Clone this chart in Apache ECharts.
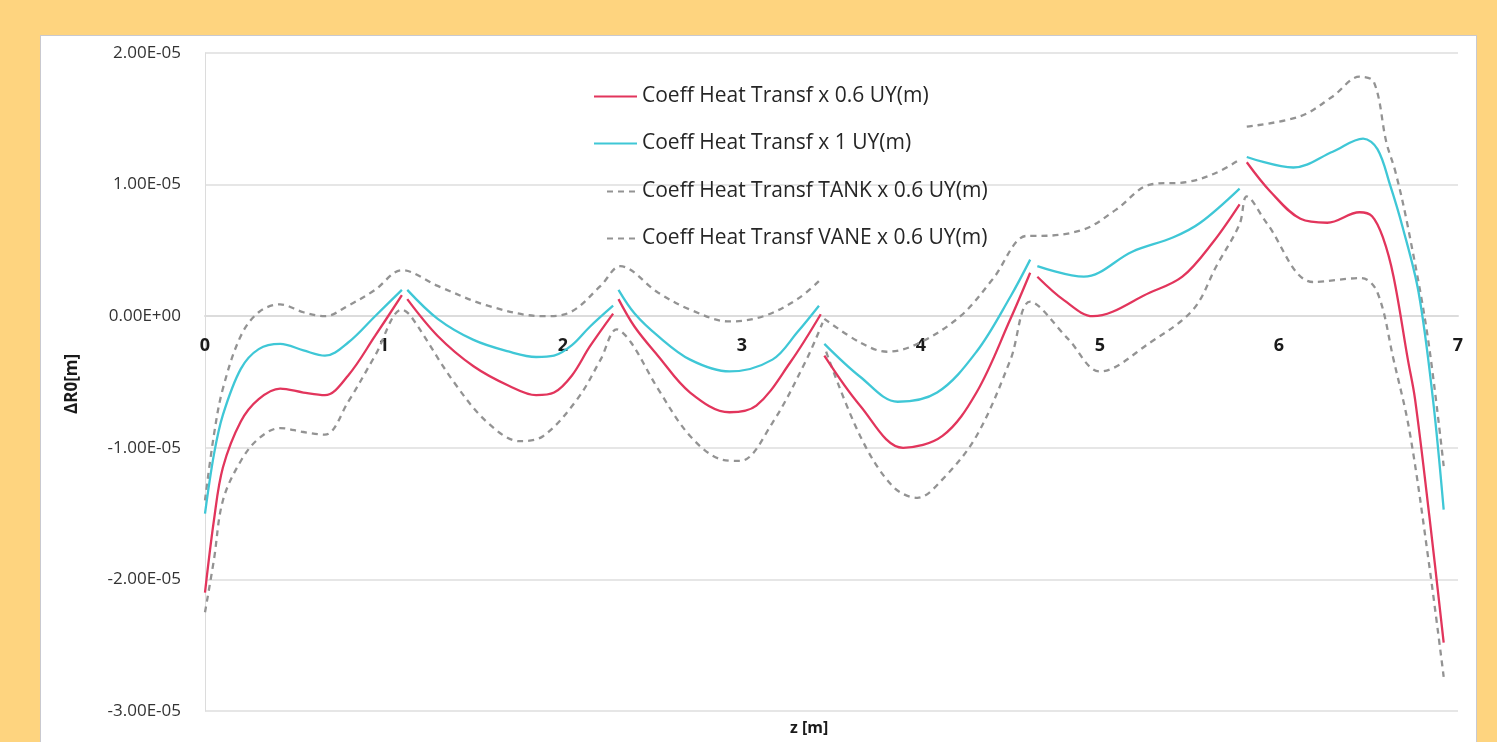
<!DOCTYPE html>
<html>
<head>
<meta charset="utf-8">
<script src="https://cdn.jsdelivr.net/npm/echarts@6/dist/echarts.min.js"></script>
<style>
  html, body { margin:0; padding:0; width:1497px; height:742px; overflow:hidden; background:#FED47F; }
  #panel { position:absolute; left:40px; top:35px; width:1437px; height:720px; background:#ffffff; border:1px solid #c9c9cf; box-sizing:border-box; }
  #chart { position:absolute; left:0; top:0; width:1497px; height:742px; }
</style>
</head>
<body>
<div id="panel"></div>
<div id="chart"></div>
<script>
// values in units of 1e-6 m; null marks a break in the curve
const seriesNames = [
  'Coeff Heat Transf x 0.6 UY(m)',
  'Coeff Heat Transf x 1 UY(m)',
  'Coeff Heat Transf TANK x 0.6 UY(m)',
  'Coeff Heat Transf VANE x 0.6 UY(m)'
];
const xTicks = [0, 1, 2, 3, 4, 5, 6, 7];
const yTicks = [-30, -20, -10, 0, 10, 20];

const redZ = [0,0.05,0.1,0.2,0.3,0.42,0.55,0.67,0.8,0.95,1.1, null,
  1.13,1.3,1.5,1.7,1.85,1.95,2.05,2.15,2.28, null,
  2.31,2.4,2.53,2.71,2.93,3.08,3.27,3.44, null,
  3.46,3.66,3.9,4.12,4.31,4.5,4.61, null,
  4.65,4.8,4.96,5.28,5.46,5.63,5.78, null,
  5.82,5.95,6.12,6.27,6.45,6.52,6.58,6.64,6.72,6.76,6.84,6.92];
const redY = [-21.0,-15.5,-11.5,-8.0,-6.3,-5.5,-5.8,-6.0,-4.5,-1.5,1.6, null,
  1.3,-1.5,-3.8,-5.3,-6.0,-5.8,-4.5,-2.3,0.2, null,
  1.3,-0.8,-3.0,-5.8,-7.3,-6.8,-3.5,0.15, null,
  -3.0,-6.8,-10.0,-9.1,-5.8,-0.2,3.3, null,
  3.0,1.2,0.0,1.8,3.0,5.6,8.5, null,
  11.7,9.5,7.4,7.1,7.9,7.6,6.0,3.0,-3.3,-6.3,-15.2,-24.8];

const cyanZ = [0,0.05,0.1,0.2,0.3,0.42,0.55,0.67,0.8,0.95,1.1, null,
  1.13,1.3,1.5,1.7,1.85,1.95,2.05,2.15,2.28, null,
  2.31,2.4,2.53,2.71,2.93,3.17,3.31,3.43, null,
  3.46,3.66,3.87,4.09,4.31,4.5,4.61, null,
  4.65,4.91,5.18,5.41,5.56,5.78, null,
  5.82,6.08,6.3,6.47,6.55,6.62,6.69,6.78,6.86,6.92];
const cyanY = [-15.0,-10.5,-7.5,-4.0,-2.5,-2.1,-2.6,-3.0,-2.0,0.0,2.0, null,
  2.0,-0.2,-1.8,-2.7,-3.1,-3.0,-2.2,-0.8,0.8, null,
  2.0,0.2,-1.5,-3.3,-4.2,-3.3,-1.2,0.8, null,
  -2.1,-4.6,-6.5,-5.8,-2.7,1.5,4.3, null,
  3.8,3.0,4.9,6.0,7.1,9.7, null,
  12.1,11.3,12.5,13.5,12.7,10.0,6.8,1.8,-6.3,-14.7];

const tankZ = [0,0.05,0.1,0.2,0.3,0.42,0.55,0.67,0.8,0.95,1.1,1.3,1.58,1.89,2.04,2.21,2.32,2.53,2.71,2.93,3.12,3.31,3.44, null,
  3.46,3.66,3.81,3.98,4.22,4.40,4.59,4.66,4.91,5.09,5.28,5.49,5.65,5.78, null,
  5.82,6.12,6.30,6.45,6.53,6.60,6.65,6.72,6.83,6.92];
const tankY = [-14.0,-9.0,-5.5,-1.5,0.3,0.9,0.3,0.0,0.8,2.0,3.5,2.3,0.8,0.0,0.3,2.3,3.8,1.8,0.5,-0.4,0.0,1.3,2.8, null,
  -0.2,-2.0,-2.7,-2.1,0.0,2.8,6.1,6.1,6.6,8.1,10.0,10.2,10.9,11.9, null,
  14.4,15.2,16.7,18.2,17.8,13.2,11.0,6.8,-1.5,-11.4];

const vaneZ = [0,0.05,0.1,0.2,0.3,0.42,0.55,0.67,0.8,0.95,1.1,1.15,1.39,1.58,1.76,1.89,2.08,2.21,2.3,2.38,2.53,2.71,2.89,2.99,3.17,3.36,3.45, null,
  3.47,3.66,3.84,3.98,4.12,4.31,4.5,4.61,4.82,5.0,5.28,5.52,5.65,5.78,5.82,5.93,6.19,6.46,6.55,6.64,6.73,6.84,6.92];
const vaneY = [-22.5,-18.5,-14.0,-11.0,-9.3,-8.5,-8.8,-9.0,-6.5,-3.0,0.5,0.0,-5.0,-8.1,-9.5,-9.1,-6.3,-3.3,-1.0,-2.0,-5.5,-9.1,-10.9,-11.0,-8.1,-3.3,-0.5, null,
  -2.7,-9.1,-12.9,-13.8,-12.4,-9.1,-3.3,1.1,-1.7,-4.2,-2.0,0.5,3.8,7.0,9.1,7.1,2.6,2.9,1.8,-3.3,-8.8,-19.0,-27.4];

function pairs(zs, ys) {
  return zs.map((z, i) => (z === null || ys[i] === null) ? ['-', '-'] : [z, ys[i]]);
}
function fmtE(v) {
  const val = v * 1e-6;
  if (Math.abs(val) < 1e-15) return '0.00E+00';
  const s = val.toExponential(2);
  const parts = s.split('e');
  const e = parseInt(parts[1], 10);
  const sign = e < 0 ? '-' : '+';
  const d = Math.abs(e);
  return parts[0] + 'E' + sign + (d < 10 ? '0' + d : d);
}

const W = 1497, H = 742;
const gridLeft = 205, gridRight = 39, gridTop = 53, gridBottom = 31;
const yMin = yTicks[0], yMax = yTicks[yTicks.length - 1];
const gridH = H - gridTop - gridBottom;
// move the x axis (line + labels) up to the y = 0 position
const xAxisOffset = -gridH * (0 - yMin) / (yMax - yMin);

const chart = echarts.init(document.getElementById('chart'), null, { renderer: 'canvas' });
const colors = ['#E2355C', '#3FC7D6', '#939393', '#939393'];
const dataSets = [pairs(redZ, redY), pairs(cyanZ, cyanY), pairs(tankZ, tankY), pairs(vaneZ, vaneY)];

const legendText = { fontSize: 21, color: '#262626', fontFamily: 'Open Sans' };

chart.setOption({
  backgroundColor: 'transparent',
  animation: false,
  textStyle: { fontFamily: 'Open Sans' },
  grid: { left: gridLeft, right: gridRight, top: gridTop, bottom: gridBottom, containLabel: false },
  legend: [
    {
      orient: 'vertical', left: 593, top: 86, padding: 0,
      itemWidth: 43, itemHeight: 14, itemGap: 26,
      itemStyle: { opacity: 0 },
      textStyle: legendText,
      data: seriesNames.slice(0, 2)
    },
    {
      orient: 'vertical', left: 606, top: 86 + 2 * 47.5, padding: 0,
      itemWidth: 30, itemHeight: 14, itemGap: 26,
      itemStyle: { opacity: 0 },
      textStyle: legendText,
      data: seriesNames.slice(2)
    }
  ],
  xAxis: {
    type: 'value',
    min: xTicks[0], max: xTicks[xTicks.length - 1], interval: 1,
    offset: xAxisOffset,
    axisLine: { show: true, onZero: false, lineStyle: { color: '#dcdcdc', width: 2 } },
    axisTick: { show: false },
    splitLine: { show: false },
    axisLabel: { margin: 21, fontSize: 18, fontWeight: 'bold', color: '#1a1a1a', fontFamily: 'Open Sans' }
  },
  yAxis: {
    type: 'value',
    min: yMin, max: yMax, interval: 10,
    axisLine: { show: true, onZero: false, lineStyle: { color: '#dcdcdc', width: 1 } },
    axisTick: { show: false },
    splitLine: { show: true, lineStyle: { color: '#e6e6e6', width: 2 } },
    axisLabel: { margin: 24, fontSize: 17, color: '#333333', formatter: fmtE, fontFamily: 'Open Sans' }
  },
  graphic: [
    { type: 'text', left: 790, top: 720, style: { text: 'z [m]', fontSize: 16, fontWeight: 'bold', fill: '#1a1a1a', fontFamily: 'Open Sans' } },
    { type: 'text', x: 64, y: 414, rotation: Math.PI / 2, style: { text: 'ΔR0[m]', fontSize: 17, fontWeight: 'bold', fill: '#1a1a1a', fontFamily: 'Open Sans' } }
  ],
  series: seriesNames.map((name, i) => ({
    name: name,
    type: 'line',
    data: dataSets[i],
    smooth: 0.35,
    symbol: 'none',
    connectNulls: false,
    color: colors[i],
    lineStyle: i < 2
      ? { color: colors[i], width: 2.3 }
      : { color: colors[i], width: 2.3, type: [6, 5] },
    z: 4 - i
  }))
});
</script>
</body>
</html>
